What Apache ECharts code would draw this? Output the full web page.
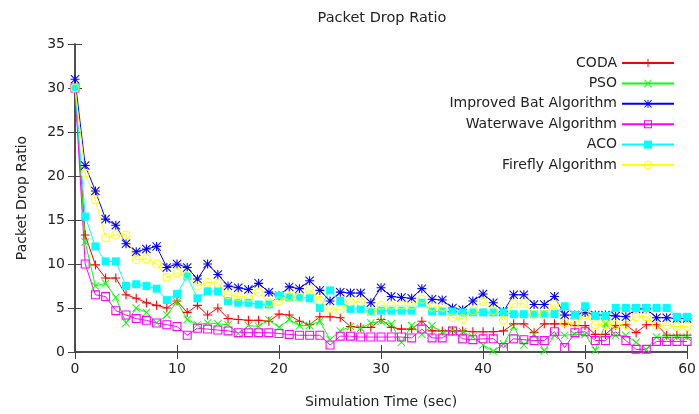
<!DOCTYPE html>
<html>
<head>
<meta charset="utf-8">
<script src="https://cdn.jsdelivr.net/npm/echarts@6/dist/echarts.min.js"></script>
<style>
  html, body { margin: 0; padding: 0; background: #fff; }
  #chart { width: 699px; height: 414px; }
</style>
</head>
<body>
<div id="chart"></div>
<script>
// simulation time, one sample per second
const times = Array.from({length: 61}, (_, i) => i);

const coda = [30, 13.3, 9.9, 8.4, 8.4, 6.5, 6.1, 5.6, 5.3, 5.0,
  5.8, 4.5, 5.3, 4.2, 5.0, 3.8, 3.7, 3.6, 3.6, 3.5,
  4.3, 4.2, 3.5, 3.1, 4.0, 4.0, 3.9, 2.9, 2.8, 2.8,
  3.7, 2.8, 2.6, 2.6, 3.5, 2.4, 2.4, 2.4, 2.4, 2.3,
  2.3, 2.3, 2.4, 3.2, 3.2, 2.2, 3.2, 3.2, 3.2, 3.0,
  3.0, 2.0, 2.0, 3.0, 3.1, 2.2, 3.1, 3.1, 1.9, 1.9, 1.9];
const pso = [30, 12.5, 7.5, 7.8, 6.2, 3.3, 5.0, 4.5, 3.3, 4.2,
  5.7, 3.7, 3.1, 3.3, 3.2, 3.1, 2.1, 3.0, 2.9, 3.7,
  2.8, 3.7, 3.0, 3.0, 3.5, 1.4, 2.4, 2.9, 2.7, 3.3,
  3.5, 3.2, 1.1, 3.0, 2.0, 3.0, 2.2, 2.5, 2.3, 1.7,
  0.8, 0.1, 0.9, 2.9, 0.8, 2.0, 0.1, 1.9, 1.9, 2.0,
  2.0, 0.2, 3.2, 1.9, 1.9, 1.1, 0.3, 1.7, 1.7, 1.7, 1.7];
const bat = [31, 21.2, 18.3, 15.1, 14.4, 12.3, 11.4, 11.7, 12.0, 9.6,
  10.0, 9.6, 8.3, 10.0, 8.8, 7.5, 7.3, 7.1, 7.8, 6.8,
  6.4, 7.4, 7.2, 8.1, 7.0, 5.8, 6.8, 6.7, 6.7, 5.6,
  7.3, 6.3, 6.2, 6.1, 7.2, 6.0, 5.9, 5.0, 4.8, 5.8,
  6.6, 5.6, 4.6, 6.5, 6.5, 5.4, 5.4, 6.3, 4.2, 4.2,
  4.5, 4.2, 4.2, 4.1, 4.0, 4.9, 4.9, 3.9, 3.9, 3.8, 3.8];
const waterwave = [30, 10.0, 6.5, 6.3, 4.7, 4.2, 3.8, 3.6, 3.3, 3.1,
  2.9, 1.9, 2.7, 2.6, 2.5, 2.4, 2.2, 2.2, 2.2, 2.2,
  2.1, 2.0, 1.9, 1.9, 1.9, 0.8, 1.8, 1.8, 1.7, 1.7,
  1.7, 1.7, 1.7, 1.6, 2.6, 1.6, 1.6, 2.4, 1.5, 1.4,
  1.5, 1.5, 0.5, 1.5, 1.4, 1.3, 1.3, 2.3, 0.5, 2.2,
  2.3, 1.3, 1.3, 2.3, 1.3, 0.3, 0.3, 1.2, 1.2, 1.2, 1.2];
const aco = [30, 15.4, 12.0, 10.3, 10.3, 7.5, 7.7, 7.5, 7.2, 5.9,
  6.6, 8.6, 6.1, 6.9, 6.9, 5.8, 5.6, 5.6, 5.4, 5.4,
  6.4, 6.2, 6.2, 6.1, 5.0, 7.0, 5.8, 4.9, 4.9, 4.6,
  4.7, 4.7, 4.7, 4.7, 5.6, 4.6, 4.6, 4.6, 4.5, 4.5,
  4.5, 4.5, 4.5, 4.3, 4.3, 4.3, 4.3, 4.3, 5.2, 4.2,
  5.2, 4.1, 4.1, 5.0, 5.0, 5.0, 5.0, 5.0, 5.0, 4.0, 4.0];
const firefly = [30, 20.3, 17.3, 13.0, 13.3, 13.3, 10.5, 10.6, 10.0, 8.5,
  9.0, 8.7, 7.5, 7.9, 7.8, 6.5, 6.3, 6.2, 6.8, 5.6,
  5.8, 6.3, 6.2, 7.1, 5.9, 4.9, 4.8, 5.7, 5.7, 4.6,
  5.3, 5.3, 5.3, 5.3, 6.0, 5.1, 5.1, 3.9, 3.8, 4.7,
  5.7, 4.7, 3.6, 5.5, 5.5, 4.3, 4.3, 5.4, 3.3, 3.3,
  4.2, 3.1, 3.1, 3.1, 3.1, 4.0, 4.0, 3.0, 3.0, 2.9, 2.9];

const seriesNames = ['CODA', 'PSO', 'Improved Bat Algorithm', 'Waterwave Algorithm', 'ACO', 'Firefly Algorithm'];
const seriesData = [coda, pso, bat, waterwave, aco, firefly];
const colors = ['#ff0000', '#00ff00', '#0000ff', '#ff00ff', '#00ffff', '#ffff00'];

// gnuplot-like point types, drawn as thin filled outlines
const PLUS = 'path://M0,4.4H10V5.6H0Z M4.4,0H5.6V10H4.4Z';
const CROSS = 'path://M0.8,0L5,4.2L9.2,0L10,0.8L5.8,5L10,9.2L9.2,10L5,5.8L0.8,10L0,9.2L4.2,5L0,0.8Z';
const STAR = 'path://M0,4.4H10V5.6H0Z M4.4,0H5.6V10H4.4Z M0.8,0L5,4.2L9.2,0L10,0.8L5.8,5L10,9.2L9.2,10L5,5.8L0.8,10L0,9.2L4.2,5L0,0.8Z';
const OPEN_SQ = 'path://M0,0H10V10H0Z M1.2,1.2V8.8H8.8V1.2Z';
const OPEN_CIRC = 'path://M5,0A5,5 0 1,1 5,10A5,5 0 1,1 5,0Z M5,1.2A3.8,3.8 0 1,0 5,8.8A3.8,3.8 0 1,0 5,1.2Z';
const symbols = [PLUS, CROSS, STAR, OPEN_SQ, 'rect', OPEN_CIRC];
const symbolSizes = [9, 8, 9, 9, 8, 9];

const font = 'DejaVu Sans';
const ink = '#222';
const frame = '#444';

const chart = echarts.init(document.getElementById('chart'));

chart.setOption({
  animation: false,
  backgroundColor: '#fff',
  title: {
    text: 'Packet Drop Ratio',
    left: 377,
    top: 6,
    textAlign: 'center',
    textStyle: {fontFamily: font, fontSize: 14.5, fontWeight: 'normal', color: ink}
  },
  legend: {
    orient: 'vertical',
    right: 19,
    top: 51,
    align: 'right',
    itemWidth: 52,
    itemHeight: 10,
    itemGap: 6.4,
    textStyle: {fontFamily: font, fontSize: 14, color: ink, lineHeight: 14},
    data: seriesNames
  },
  grid: {left: 75, right: 10, top: 44, bottom: 62},
  xAxis: [{
    type: 'value',
    min: 0, max: 60, interval: 10,
    name: 'Simulation Time (sec)',
    nameLocation: 'middle',
    nameGap: 43,
    nameTextStyle: {fontFamily: font, fontSize: 14, color: ink},
    axisLine: {lineStyle: {color: frame, width: 1.5}},
    axisTick: {inside: true, length: 7, lineStyle: {color: frame}},
    axisLabel: {fontFamily: font, fontSize: 14, color: ink, margin: 10},
    splitLine: {show: false}
  }, {
    type: 'value', position: 'top',
    min: 0, max: 60, interval: 10,
    axisLine: {lineStyle: {color: frame, width: 1.5}},
    axisTick: {inside: true, length: 7, lineStyle: {color: frame}},
    axisLabel: {show: false},
    splitLine: {show: false}
  }],
  yAxis: [{
    type: 'value',
    min: 0, max: 35, interval: 5,
    name: 'Packet Drop Ratio',
    nameLocation: 'middle',
    nameGap: 46,
    nameTextStyle: {fontFamily: font, fontSize: 14, color: ink},
    axisLine: {show: true, lineStyle: {color: frame, width: 1.5}},
    axisTick: {show: true, inside: true, length: 7, lineStyle: {color: frame}},
    axisLabel: {fontFamily: font, fontSize: 14, color: ink, margin: 10},
    splitLine: {show: false}
  }, {
    type: 'value', position: 'right',
    min: 0, max: 35, interval: 5,
    axisLine: {show: true, lineStyle: {color: frame, width: 1.5}},
    axisTick: {show: true, inside: true, length: 7, lineStyle: {color: frame}},
    axisLabel: {show: false},
    splitLine: {show: false}
  }],
  series: seriesNames.map((name, k) => ({
    name: name,
    type: 'line',
    data: times.map((t, i) => [t, seriesData[k][i]]),
    symbol: symbols[k],
    symbolSize: symbolSizes[k],
    showAllSymbol: true,
    color: colors[k],
    lineStyle: {width: 1, color: colors[k]},
    itemStyle: {color: colors[k], borderWidth: 0}
  }))
});
</script>
</body>
</html>
